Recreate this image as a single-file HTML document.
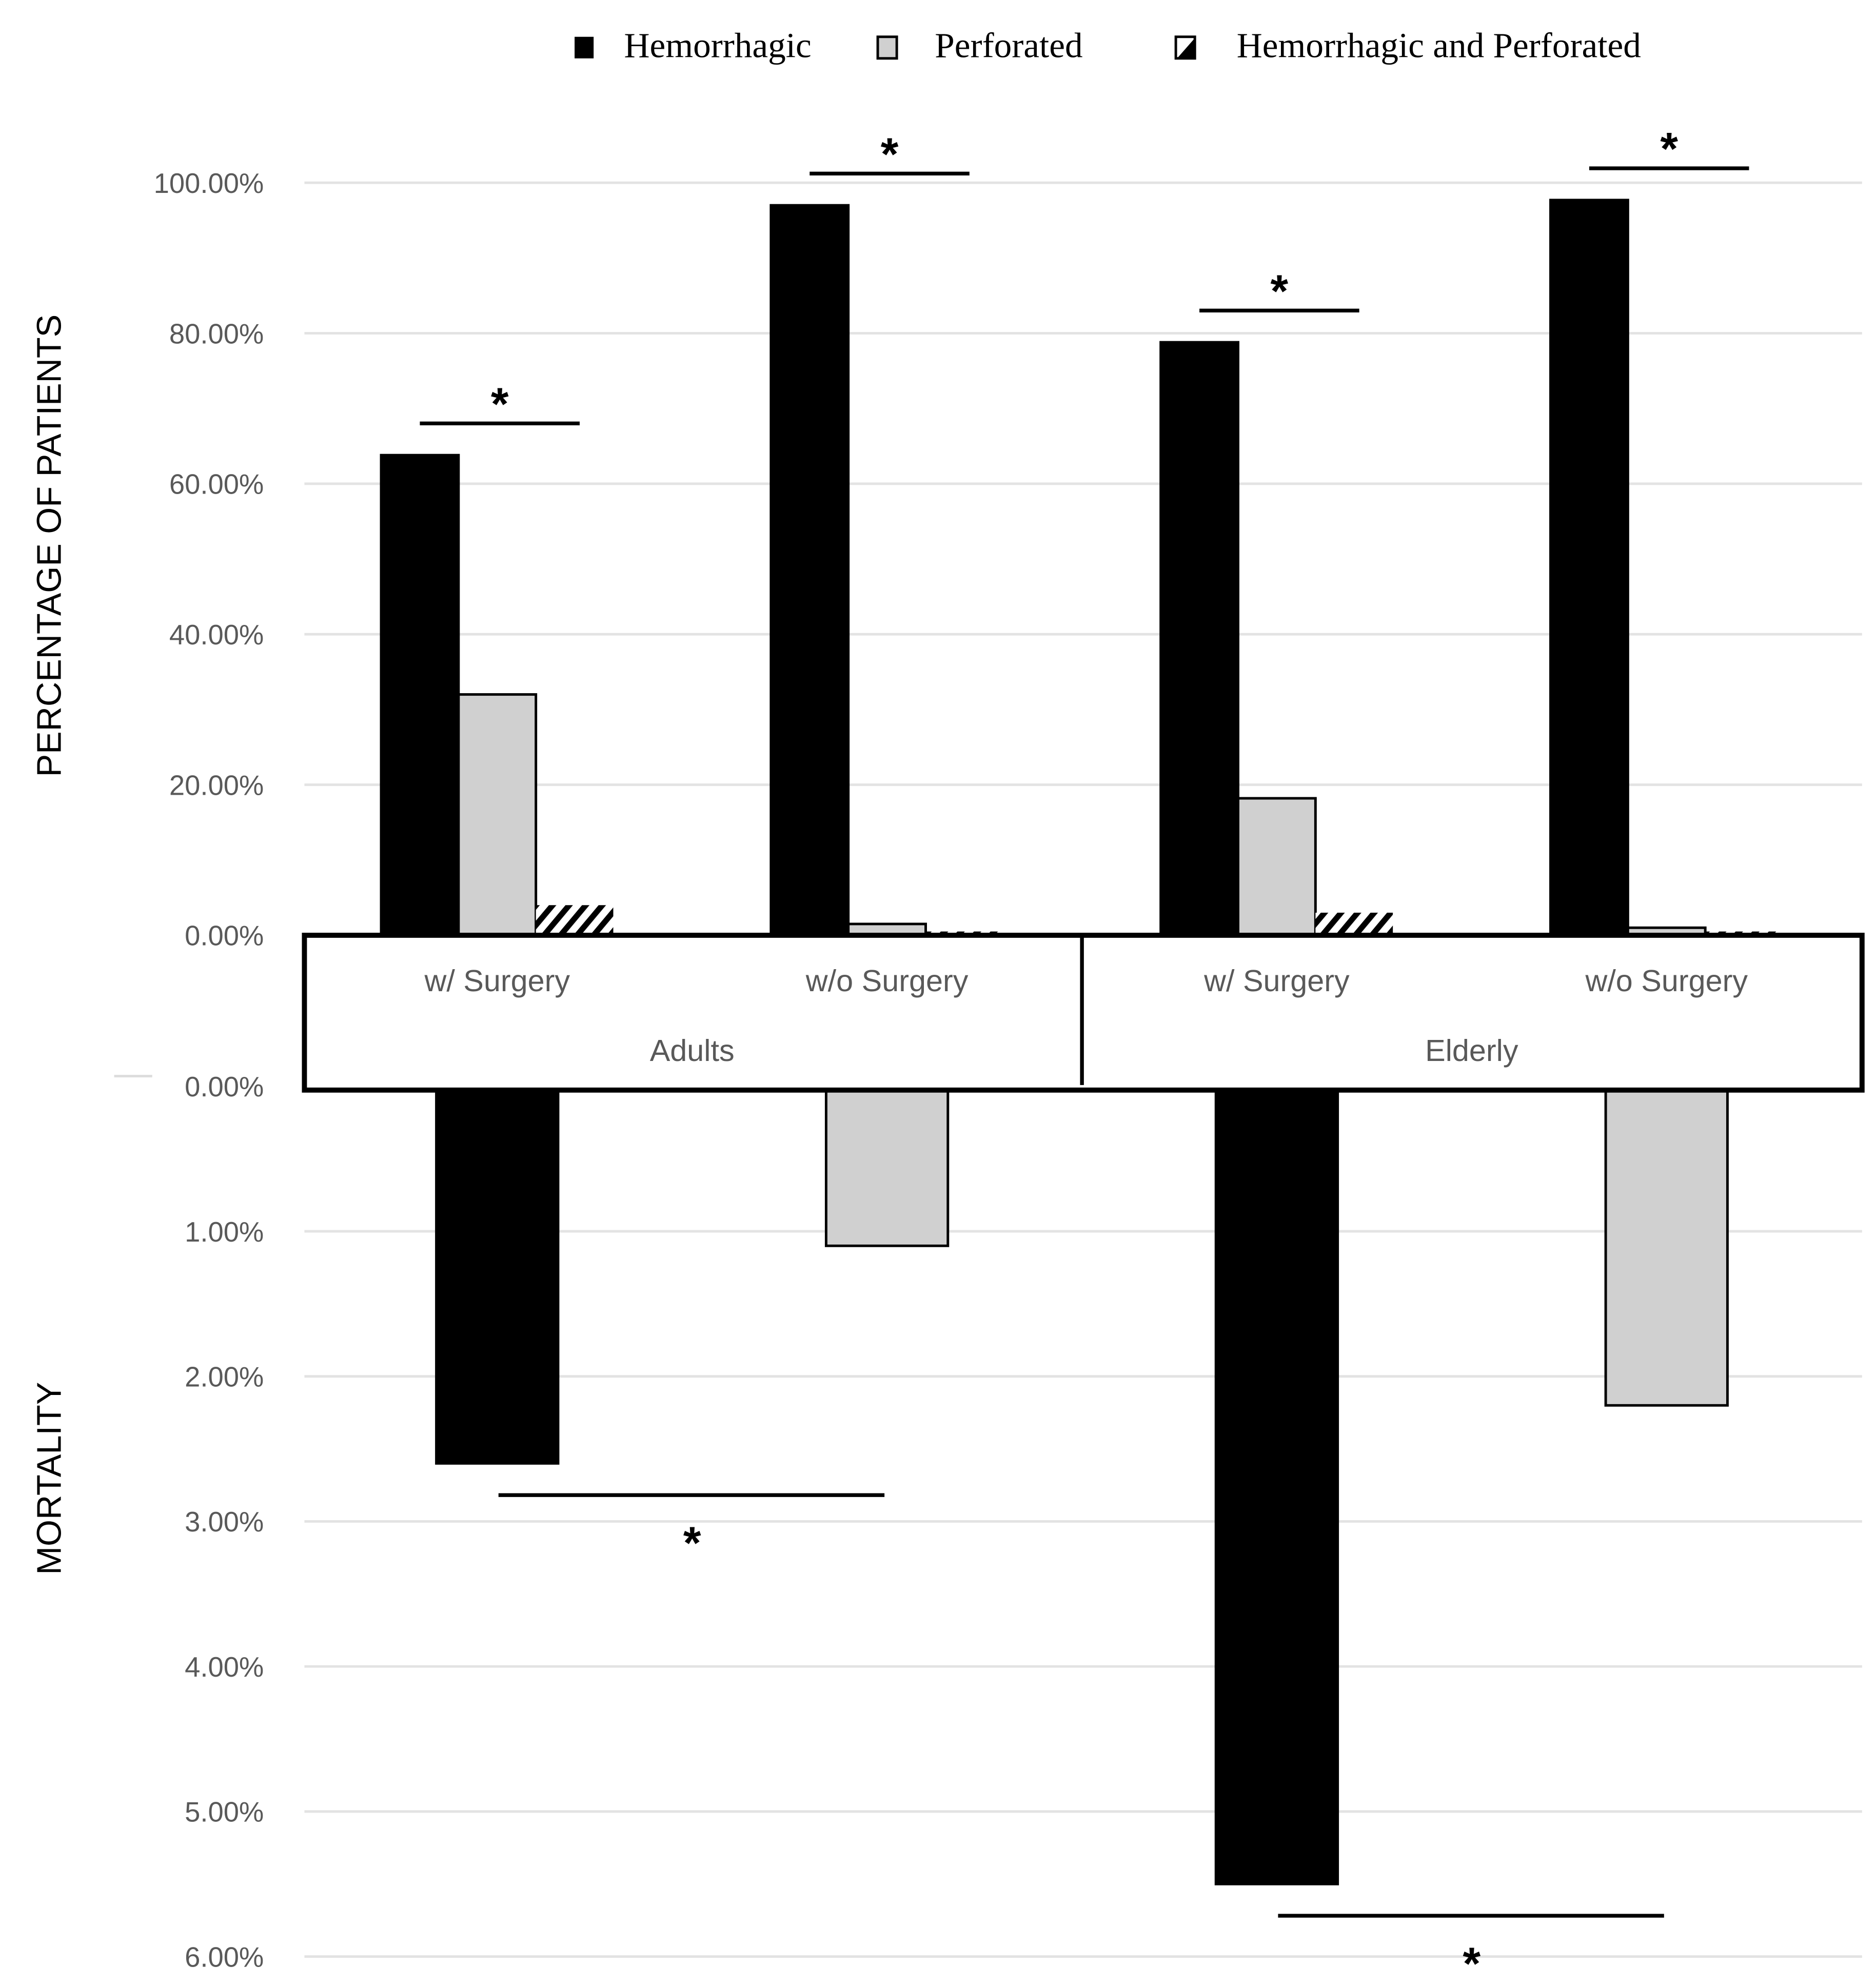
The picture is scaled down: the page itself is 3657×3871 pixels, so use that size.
<!DOCTYPE html>
<html><head><meta charset="utf-8"><style>html,body{margin:0;padding:0;background:#fff}svg{display:block}</style></head>
<body>
<svg id="chart" width="3657" height="3871" viewBox="0 0 1479 1565" preserveAspectRatio="none" xmlns="http://www.w3.org/2000/svg">
<defs>
<pattern id="hatch" patternUnits="userSpaceOnUse" width="10" height="10" patternTransform="rotate(40)">
<rect width="10" height="10" fill="#fff"/><rect width="4.5" height="10" fill="#000"/>
</pattern>
</defs>
<g id="legend" font-family="'Liberation Serif',serif" font-size="28" fill="#000">
<g><rect x="453" y="29" width="15" height="17" fill="#000"/><text x="492" y="45">Hemorrhagic</text></g>
<g><rect x="692" y="29" width="15" height="17" fill="#d0d0d0" stroke="#000" stroke-width="2"/><text x="737" y="45">Perforated</text></g>
<g><rect x="927" y="29" width="15" height="17" fill="#fff" stroke="#000" stroke-width="2"/><path d="M928 46 L942 30 L942 46 Z" fill="#000"/><text x="975" y="45">Hemorrhagic and Perforated</text></g>
</g>
<text transform="translate(48,430) rotate(-90)" text-anchor="middle" font-family="'Liberation Sans',sans-serif" font-size="27" fill="#000">PERCENTAGE OF PATIENTS</text>
<text transform="translate(48,1165) rotate(-90)" text-anchor="middle" font-family="'Liberation Sans',sans-serif" font-size="27" fill="#000">MORTALITY</text>
<line x1="90" y1="848" x2="120" y2="848" stroke="#ddd" stroke-width="2"/>
<g id="grid"></g>
<g id="bars"></g>
<g id="box">
<rect x="240" y="737" width="1228" height="122" fill="#fff" stroke="#000" stroke-width="4"/>
<line x1="853" y1="737" x2="853" y2="855" stroke="#000" stroke-width="3"/>
</g>
<g id="labels" font-family="'Liberation Sans',sans-serif" fill="#595959"></g>
<g id="sig"></g>
</svg>
<script>
const categories = ["w/ Surgery","w/o Surgery","w/ Surgery","w/o Surgery"];
const groups = ["Adults","Elderly"];
const hemorrhagic = [63.8, 97.0, 78.8, 97.7];
const perforated = [32.0, 1.5, 18.2, 1.0];
const hemPerf = [4.0, 0.5, 3.0, 0.5];
const mortality = [2.6, 1.1, 5.5, 2.2];
const mortalityType = ["hemorrhagic","perforated","hemorrhagic","perforated"];
const topTicks = [0,20,40,60,80,100];
const topTickLabels = ["0.00%","20.00%","40.00%","60.00%","80.00%","100.00%"];
const botTicks = [0,1,2,3,4,5,6];
const botTickLabels = ["0.00%","1.00%","2.00%","3.00%","4.00%","5.00%","6.00%"];

const NS="http://www.w3.org/2000/svg";
const yTop = v => 737 - v*5.93;
const yBot = v => 856 + v*114.3;
const xCat = i => 392 + i*307.3;
function mk(parent, tag, attrs){const e=document.createElementNS(NS,tag);for(const k in attrs)e.setAttribute(k,attrs[k]);parent.appendChild(e);return e;}
const grid=document.getElementById('grid'), bars=document.getElementById('bars'), labels=document.getElementById('labels'), sig=document.getElementById('sig');

topTicks.forEach((t,i)=>{
  const y=yTop(t);
  const l=mk(grid,'line',{x1:240,x2:1468,y1:y,y2:y,stroke:'#e3e3e3','stroke-width':2});
  
  
  const tx=mk(labels,'text',{x:208,y:y+8,'text-anchor':'end','font-size':22});
  
  
  tx.textContent=topTickLabels[i];
});
botTicks.forEach((t,i)=>{
  const y=yBot(t);
  if(t>0){const l=mk(grid,'line',{x1:240,x2:1468,y1:y,y2:y,stroke:'#e3e3e3','stroke-width':2});
  
  }
  const tx=mk(labels,'text',{x:208,y:y+8,'text-anchor':'end','font-size':22});
  
  
  tx.textContent=botTickLabels[i];
});

const bw=61;
categories.forEach((c,i)=>{
  const cx=xCat(i);
  const series=[[hemorrhagic[i],'#000','#000','bar-hemorrhagic'],[perforated[i],'#d0d0d0','#000','bar-perforated'],[hemPerf[i],'url(#hatch)','none','bar-hemorrhagic-perforated']];
  series.forEach((s,j)=>{
    const x=cx-1.5*bw+j*bw, y=yTop(s[0]);
    const r=mk(bars,'rect',{x:x,y:y,width:bw,height:737-y,fill:s[1],stroke:s[2],'stroke-width':2});
    
    
  });
  const m=mortality[i], isH=mortalityType[i]==='hemorrhagic';
  const r=mk(bars,'rect',{x:cx-48,y:856,width:96,height:yBot(m)-856,fill:isH?'#000':'#d0d0d0',stroke:'#000','stroke-width':2});
  
  
  const t=mk(labels,'text',{x:cx,y:781,'text-anchor':'middle','font-size':24});
  
  
  t.textContent=c;
  const top=Math.max(hemorrhagic[i],perforated[i],hemPerf[i]);
  const ly=yTop(top)-25;
  const l=mk(sig,'line',{x1:cx-61,x2:cx+65,y1:ly,y2:ly,stroke:'#000','stroke-width':3});
  
  
  const s=mk(sig,'text',{x:cx+2,y:ly-3,'text-anchor':'middle','font-size':36,'font-weight':'bold','font-family':"'Liberation Sans',sans-serif"});
  
  
  s.textContent='*';
});
groups.forEach((g,k)=>{
  const cx=(xCat(2*k)+xCat(2*k+1))/2;
  const t=mk(labels,'text',{x:cx,y:836,'text-anchor':'middle','font-size':24});
  
  
  t.textContent=g;
  const m=Math.max(mortality[2*k],mortality[2*k+1]);
  const ly=yBot(m)+25;
  const l=mk(sig,'line',{x1:xCat(2*k)+1,x2:xCat(2*k+1)-2,y1:ly,y2:ly,stroke:'#000','stroke-width':3});
  
  
  const s=mk(sig,'text',{x:cx,y:ly+50,'text-anchor':'middle','font-size':36,'font-weight':'bold','font-family':"'Liberation Sans',sans-serif"});
  
  
  s.textContent='*';
});
</script>
</body></html>
